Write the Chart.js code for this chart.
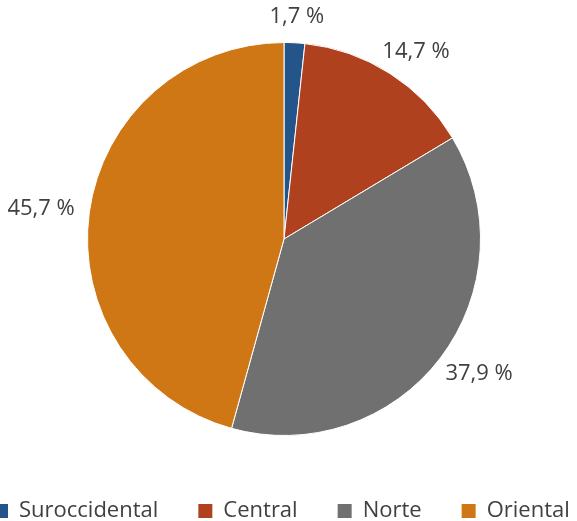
<!DOCTYPE html>
<html>
<head>
<meta charset="utf-8">
<script src="https://cdn.jsdelivr.net/npm/chart.js@4"></script>
<style>
  html, body { margin: 0; padding: 0; background: #fff; }
  #wrap { width: 577px; height: 521px; }
</style>
</head>
<body>
<div id="wrap"><canvas id="pie"></canvas></div>
<script>
const regions = ["Suroccidental", "Central", "Norte", "Oriental"];
const shares = [1.7, 14.7, 37.9, 45.7];
const sliceColors = ["#23548A", "#B0411F", "#707070", "#CF7714"];

const FONT = "'Open Sans', sans-serif";
const TEXT = "#404040";

// percentage labels just outside each slice
const outsideLabels = {
    id: "outsideLabels",
    afterDatasetsDraw(chart) {
        const ctx = chart.ctx;
        const meta = chart.getDatasetMeta(0);
        ctx.save();
        ctx.font = "22px " + FONT;
        ctx.fillStyle = TEXT;
        ctx.textAlign = "center";
        ctx.textBaseline = "middle";
        meta.data.forEach((arc, i) => {
            const mid = (arc.startAngle + arc.endAngle) / 2;
            const txt = shares[i].toFixed(1).replace(".", ",") + " %";
            const w = ctx.measureText(txt).width;
            const h = 22;
            const ux = Math.cos(mid), uy = Math.sin(mid);
            const r = arc.outerRadius + 15;
            const x = arc.x + ux * r + ux * w / 2;
            const y = arc.y + uy * r + uy * h / 2;
            ctx.fillText(txt, x, y);
        });
        ctx.restore();
    }
};

// legend row along the bottom
const bottomLegend = {
    id: "bottomLegend",
    afterDraw(chart) {
        const ctx = chart.ctx;
        ctx.save();
        ctx.font = "22px " + FONT;
        ctx.textBaseline = "middle";
        let x = -6;
        const y = 511;
        chart.data.labels.forEach((lab, i) => {
            ctx.fillStyle = sliceColors[i];
            ctx.fillRect(x, y - 7, 14, 14);
            ctx.fillStyle = TEXT;
            ctx.textAlign = "left";
            ctx.fillText(lab, x + 25, y);
            x += 25 + ctx.measureText(lab).width + 40;
        });
        ctx.restore();
    }
};

new Chart(document.getElementById("pie"), {
    type: "pie",
    data: {
        labels: regions,
        datasets: [{
            data: shares,
            backgroundColor: sliceColors,
            borderColor: "#ffffff",
            borderWidth: 1
        }]
    },
    options: {
        responsive: true,
        maintainAspectRatio: false,
        animation: false,
        layout: { padding: { top: 42, bottom: 85, left: 0, right: 9 } },
        plugins: {
            legend: { display: false },
            tooltip: { enabled: false }
        }
    },
    plugins: [outsideLabels, bottomLegend]
});
</script>
</body>
</html>
